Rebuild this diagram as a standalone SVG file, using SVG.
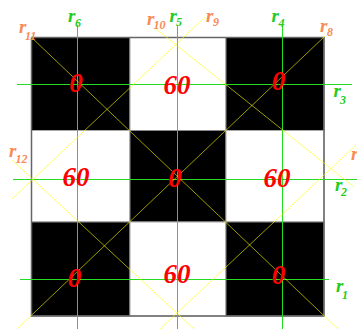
<svg xmlns="http://www.w3.org/2000/svg" width="357" height="329" viewBox="0 0 357 329">
<style>
.b{fill:#000;stroke:#888;stroke-width:1}
.w{fill:#fff;stroke:#aaa;stroke-width:1}
.g{stroke:#22dd22;stroke-width:1;fill:none}
.y{stroke:#ffff00;stroke-width:1;stroke-opacity:0.6;fill:none}
.lg{font-family:"Liberation Serif",serif;font-style:italic;font-weight:bold;fill:#22cc22}
.lo{font-family:"Liberation Serif",serif;font-style:italic;font-weight:bold;fill:#f98a55}
.r{font-size:19px}
.s{font-size:12px}
.n{font-family:"Liberation Serif",serif;font-style:italic;font-weight:bold;font-size:27px;fill:#ff0000;text-anchor:middle}
</style>
<rect width="357" height="329" fill="#fff"/>
<g id="board">
<rect class="b" x="31.5" y="37.5" width="98.5" height="93"/>
<rect class="w" x="130" y="37.5" width="96" height="93"/>
<rect class="b" x="226" y="37.5" width="98" height="93"/>
<rect class="w" x="31.5" y="130.5" width="98.5" height="91.5"/>
<rect class="b" x="130" y="130.5" width="96" height="91.5"/>
<rect class="w" x="226" y="130.5" width="98" height="91.5"/>
<rect class="b" x="31.5" y="222" width="98.5" height="94"/>
<rect class="w" x="130" y="222" width="96" height="94"/>
<rect class="b" x="226" y="222" width="98" height="94"/>
<rect x="31.5" y="37.5" width="292.5" height="278.5" fill="none" stroke="#666" stroke-width="1.5"/>
</g>
<g id="connectors">
<g id="mirrors">
<line class="g" x1="77.5" y1="25" x2="77.5" y2="329"/>
<line class="g" x1="177.5" y1="26" x2="177.5" y2="329"/>
<line class="g" x1="282.5" y1="25" x2="282.5" y2="329"/>
<line class="g" x1="17" y1="84.5" x2="352" y2="84.5"/>
<line class="g" x1="13" y1="179.5" x2="357" y2="179.5"/>
<line class="g" x1="20" y1="279.5" x2="329" y2="279.5"/>
</g>
<g id="diagonals">
<line class="y" x1="205" y1="17" x2="12" y2="199"/>
<line class="y" x1="155" y1="28" x2="354" y2="187"/>
<line class="y" x1="12" y1="160" x2="194" y2="329"/>
<line class="y" x1="356" y1="145" x2="160" y2="329"/>
<line class="y" x1="31" y1="37" x2="338" y2="329"/>
<line class="y" x1="325" y1="36" x2="17" y2="329"/>
</g>
</g>
<g id="labels">
<text class="lg"><tspan class="r" x="68" y="22">r</tspan><tspan class="s" x="75" y="27">6</tspan></text>
<text class="lg"><tspan class="r" x="169.5" y="22">r</tspan><tspan class="s" x="176" y="26">5</tspan></text>
<text class="lg"><tspan class="r" x="271.5" y="22">r</tspan><tspan class="s" x="278.5" y="27">4</tspan></text>
<text class="lg"><tspan class="r" x="333.5" y="97">r</tspan><tspan class="s" x="340" y="104">3</tspan></text>
<text class="lg"><tspan class="r" x="335" y="191">r</tspan><tspan class="s" x="341" y="196">2</tspan></text>
<text class="lg"><tspan class="r" x="336" y="292">r</tspan><tspan class="s" x="342" y="299">1</tspan></text>
<text class="lo"><tspan class="r" x="19" y="33">r</tspan><tspan class="s" x="25" y="40">11</tspan></text>
<text class="lo"><tspan class="r" x="147" y="25">r</tspan><tspan class="s" x="153.5" y="29">10</tspan></text>
<text class="lo"><tspan class="r" x="206" y="22">r</tspan><tspan class="s" x="213" y="26">9</tspan></text>
<text class="lo"><tspan class="r" x="320" y="32">r</tspan><tspan class="s" x="327" y="36">8</tspan></text>
<text class="lo"><tspan class="r" x="9" y="157">r</tspan><tspan class="s" x="15.5" y="163">12</tspan></text>
<text class="lo"><tspan class="r" x="351" y="160">r</tspan><tspan class="s" x="358" y="165">7</tspan></text>
</g>
<g id="values">
<text class="n" x="76" y="92">0</text>
<text class="n" x="177" y="94">60</text>
<text class="n" x="278.5" y="90">0</text>
<text class="n" x="76" y="186">60</text>
<text class="n" x="175" y="187">0</text>
<text class="n" x="277" y="187">60</text>
<text class="n" x="74.5" y="287">0</text>
<text class="n" x="177" y="283">60</text>
<text class="n" x="278.5" y="284">0</text>
</g>
</svg>
